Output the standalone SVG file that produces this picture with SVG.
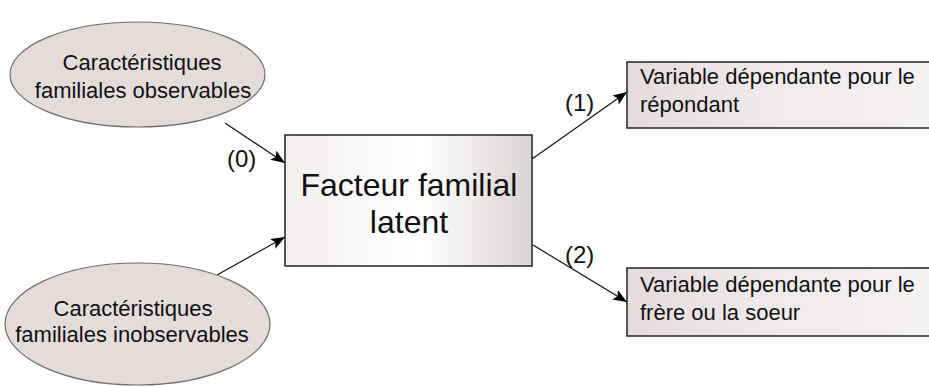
<svg xmlns="http://www.w3.org/2000/svg" width="929" height="387" viewBox="0 0 929 387">
<style>
  text { font-family: "Liberation Sans", Arial, sans-serif; fill: #111; }
  .small { font-size: 22px; }
  .lbl { font-size: 24px; }
  .big { font-size: 32px; }
  .ell { fill: #e4dbdb; stroke: #6e6e6e; stroke-width: 1.2; }
  .box { stroke: #222; stroke-width: 1.5; }
  .conn { stroke: #111; stroke-width: 1.2; fill: none; marker-end: url(#arr); }
</style>
<defs>
  <marker id="arr" viewBox="0 0 14 11" refX="14" refY="5.5" markerWidth="14" markerHeight="11" markerUnits="userSpaceOnUse" orient="auto">
    <path d="M0,0 L14,5.5 L0,11 L3,5.5 Z" fill="#000"/>
  </marker>
  <linearGradient id="gMain" x1="0" y1="0" x2="1" y2="0">
    <stop offset="0" stop-color="#f3eeee"/>
    <stop offset="0.55" stop-color="#ffffff"/>
    <stop offset="1" stop-color="#dbd3d3"/>
  </linearGradient>
  <linearGradient id="gSide" x1="0" y1="0" x2="1" y2="0">
    <stop offset="0" stop-color="#e4dcdc"/>
    <stop offset="0.5" stop-color="#f0ebeb"/>
    <stop offset="1" stop-color="#f5f2f2"/>
  </linearGradient>
</defs>

<g id="connectors">
  <line class="conn" x1="225" y1="123" x2="285" y2="163"/>
  <line class="conn" x1="217" y1="275" x2="285" y2="237"/>
  <line class="conn" x1="532" y1="159" x2="627" y2="92"/>
  <line class="conn" x1="533" y1="245" x2="627" y2="302"/>
  <text class="lbl" x="227" y="167">(0)</text>
  <text class="lbl" x="565" y="111">(1)</text>
  <text class="lbl" x="565" y="263">(2)</text>
</g>

<g id="obs">
  <ellipse class="ell" cx="137.5" cy="74.5" rx="127.5" ry="52.5"/>
  <text class="small" x="142" y="70" text-anchor="middle">Caractéristiques</text>
  <text class="small" x="143" y="98" text-anchor="middle">familiales observables</text>
</g>

<g id="inobs">
  <ellipse class="ell" cx="137.5" cy="324" rx="132.5" ry="61"/>
  <text class="small" x="133" y="316" text-anchor="middle">Caractéristiques</text>
  <text class="small" x="132" y="342" text-anchor="middle">familiales inobservables</text>
</g>

<g id="latent">
  <rect class="box" x="285" y="135" width="247" height="131" fill="url(#gMain)"/>
  <text class="big" x="409" y="196" text-anchor="middle">Facteur familial</text>
  <text class="big" x="409" y="233" text-anchor="middle">latent</text>
</g>

<g id="dep1">
  <rect class="box" x="627" y="62" width="310" height="66" fill="url(#gSide)"/>
  <text class="small" x="640" y="84">Variable dépendante pour le</text>
  <text class="small" x="640" y="112">répondant</text>
</g>

<g id="dep2">
  <rect class="box" x="627" y="268" width="310" height="68" fill="url(#gSide)"/>
  <text class="small" x="640" y="292">Variable dépendante pour le</text>
  <text class="small" x="640" y="320">frère ou la soeur</text>
</g>
</svg>
